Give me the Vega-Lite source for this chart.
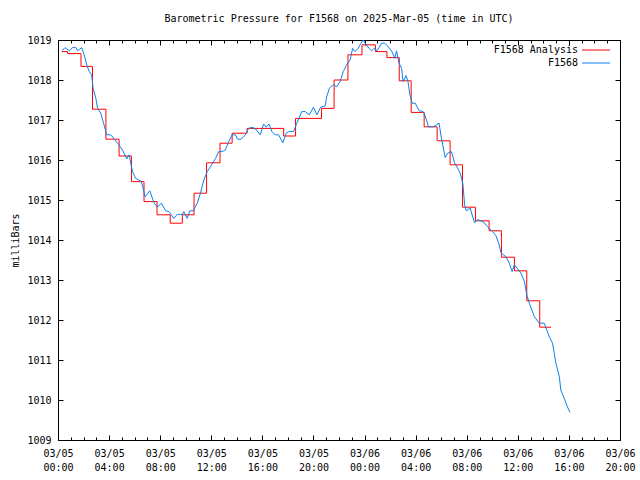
{
  "$schema": "https://vega.github.io/schema/vega-lite/v6.json",
  "width": 562,
  "height": 400,
  "autosize": {"type": "none"},
  "padding": {"left": 58, "top": 40, "right": 20, "bottom": 40},
  "background": "white",
  "title": {"text": "Barometric Pressure for F1568 on 2025-Mar-05 (time in UTC)", "font": "DejaVu Sans Mono", "fontSize": 10, "fontWeight": "normal", "color": "black", "offset": 11, "anchor": "middle"},
  "config": {
    "view": {"stroke": "black", "strokeWidth": 1},
    "axis": {"domain": false, "grid": false, "labelFont": "DejaVu Sans Mono", "labelFontSize": 10, "labelColor": "black", "tickColor": "black", "tickWidth": 1, "titleFont": "DejaVu Sans Mono", "titleFontSize": 10, "titleFontWeight": "normal", "titleColor": "black"}
  },
  "datasets": {
    "analysis": [
      {"t": "2025-03-05T00:19", "p": 1018.71},
      {"t": "2025-03-05T00:45", "p": 1018.66},
      {"t": "2025-03-05T01:48", "p": 1018.34},
      {"t": "2025-03-05T02:42", "p": 1017.27},
      {"t": "2025-03-05T03:45", "p": 1016.52},
      {"t": "2025-03-05T04:47", "p": 1016.10},
      {"t": "2025-03-05T05:45", "p": 1015.46},
      {"t": "2025-03-05T06:44", "p": 1014.96},
      {"t": "2025-03-05T07:45", "p": 1014.63},
      {"t": "2025-03-05T08:47", "p": 1014.42},
      {"t": "2025-03-05T09:44", "p": 1014.63},
      {"t": "2025-03-05T10:39", "p": 1015.17},
      {"t": "2025-03-05T11:38", "p": 1015.93},
      {"t": "2025-03-05T12:41", "p": 1016.42},
      {"t": "2025-03-05T13:38", "p": 1016.67},
      {"t": "2025-03-05T14:48", "p": 1016.79},
      {"t": "2025-03-05T17:40", "p": 1016.60},
      {"t": "2025-03-05T18:36", "p": 1017.04},
      {"t": "2025-03-05T20:38", "p": 1017.29},
      {"t": "2025-03-05T21:37", "p": 1018.00},
      {"t": "2025-03-05T22:42", "p": 1018.63},
      {"t": "2025-03-05T23:48", "p": 1018.88},
      {"t": "2025-03-06T00:51", "p": 1018.71},
      {"t": "2025-03-06T01:45", "p": 1018.56},
      {"t": "2025-03-06T02:43", "p": 1017.98},
      {"t": "2025-03-06T03:39", "p": 1017.19},
      {"t": "2025-03-06T04:40", "p": 1016.83},
      {"t": "2025-03-06T05:41", "p": 1016.48},
      {"t": "2025-03-06T06:42", "p": 1015.88},
      {"t": "2025-03-06T07:40", "p": 1014.82},
      {"t": "2025-03-06T08:41", "p": 1014.48},
      {"t": "2025-03-06T09:45", "p": 1014.23},
      {"t": "2025-03-06T10:43", "p": 1013.57},
      {"t": "2025-03-06T11:44", "p": 1013.23},
      {"t": "2025-03-06T12:42", "p": 1012.48},
      {"t": "2025-03-06T13:43", "p": 1011.82},
      {"t": "2025-03-06T14:36", "p": 1011.82}
    ],
    "obs": [
      {"t": "2025-03-05T00:19", "p": 1018.73},
      {"t": "2025-03-05T00:33", "p": 1018.81},
      {"t": "2025-03-05T00:53", "p": 1018.73},
      {"t": "2025-03-05T01:09", "p": 1018.81},
      {"t": "2025-03-05T01:24", "p": 1018.81},
      {"t": "2025-03-05T01:32", "p": 1018.73},
      {"t": "2025-03-05T01:51", "p": 1018.81},
      {"t": "2025-03-05T02:03", "p": 1018.63},
      {"t": "2025-03-05T02:16", "p": 1018.36},
      {"t": "2025-03-05T02:27", "p": 1018.21},
      {"t": "2025-03-05T02:38", "p": 1018.13},
      {"t": "2025-03-05T02:45", "p": 1017.79},
      {"t": "2025-03-05T02:58", "p": 1017.54},
      {"t": "2025-03-05T03:06", "p": 1017.29},
      {"t": "2025-03-05T03:21", "p": 1017.17},
      {"t": "2025-03-05T03:34", "p": 1016.92},
      {"t": "2025-03-05T03:49", "p": 1016.63},
      {"t": "2025-03-05T04:08", "p": 1016.63},
      {"t": "2025-03-05T04:40", "p": 1016.42},
      {"t": "2025-03-05T05:03", "p": 1016.25},
      {"t": "2025-03-05T05:23", "p": 1016.03},
      {"t": "2025-03-05T05:34", "p": 1016.13},
      {"t": "2025-03-05T05:50", "p": 1015.71},
      {"t": "2025-03-05T06:05", "p": 1015.54},
      {"t": "2025-03-05T06:32", "p": 1015.46},
      {"t": "2025-03-05T06:49", "p": 1015.08},
      {"t": "2025-03-05T07:11", "p": 1015.23},
      {"t": "2025-03-05T07:31", "p": 1014.93},
      {"t": "2025-03-05T07:47", "p": 1014.82},
      {"t": "2025-03-05T08:05", "p": 1014.92},
      {"t": "2025-03-05T08:26", "p": 1014.73},
      {"t": "2025-03-05T08:41", "p": 1014.71},
      {"t": "2025-03-05T09:04", "p": 1014.54},
      {"t": "2025-03-05T09:20", "p": 1014.64},
      {"t": "2025-03-05T09:44", "p": 1014.64},
      {"t": "2025-03-05T09:51", "p": 1014.71},
      {"t": "2025-03-05T10:07", "p": 1014.54},
      {"t": "2025-03-05T10:19", "p": 1014.73},
      {"t": "2025-03-05T10:35", "p": 1014.73},
      {"t": "2025-03-05T10:54", "p": 1014.92},
      {"t": "2025-03-05T11:09", "p": 1015.17},
      {"t": "2025-03-05T11:25", "p": 1015.50},
      {"t": "2025-03-05T11:41", "p": 1015.71},
      {"t": "2025-03-05T11:56", "p": 1015.83},
      {"t": "2025-03-05T12:20", "p": 1016.04},
      {"t": "2025-03-05T12:35", "p": 1016.21},
      {"t": "2025-03-05T12:51", "p": 1016.21},
      {"t": "2025-03-05T13:06", "p": 1016.25},
      {"t": "2025-03-05T13:22", "p": 1016.46},
      {"t": "2025-03-05T13:38", "p": 1016.63},
      {"t": "2025-03-05T13:53", "p": 1016.63},
      {"t": "2025-03-05T14:04", "p": 1016.52},
      {"t": "2025-03-05T14:20", "p": 1016.52},
      {"t": "2025-03-05T14:40", "p": 1016.63},
      {"t": "2025-03-05T14:55", "p": 1016.79},
      {"t": "2025-03-05T15:11", "p": 1016.82},
      {"t": "2025-03-05T15:27", "p": 1016.78},
      {"t": "2025-03-05T15:50", "p": 1016.63},
      {"t": "2025-03-05T16:06", "p": 1016.90},
      {"t": "2025-03-05T16:18", "p": 1016.82},
      {"t": "2025-03-05T16:31", "p": 1016.90},
      {"t": "2025-03-05T16:45", "p": 1016.71},
      {"t": "2025-03-05T17:00", "p": 1016.63},
      {"t": "2025-03-05T17:16", "p": 1016.63},
      {"t": "2025-03-05T17:36", "p": 1016.43},
      {"t": "2025-03-05T17:52", "p": 1016.67},
      {"t": "2025-03-05T18:03", "p": 1016.71},
      {"t": "2025-03-05T18:26", "p": 1016.71},
      {"t": "2025-03-05T18:42", "p": 1016.92},
      {"t": "2025-03-05T19:05", "p": 1017.21},
      {"t": "2025-03-05T19:21", "p": 1017.21},
      {"t": "2025-03-05T19:41", "p": 1017.13},
      {"t": "2025-03-05T20:00", "p": 1017.32},
      {"t": "2025-03-05T20:16", "p": 1017.13},
      {"t": "2025-03-05T20:34", "p": 1017.32},
      {"t": "2025-03-05T20:55", "p": 1017.35},
      {"t": "2025-03-05T21:02", "p": 1017.58},
      {"t": "2025-03-05T21:15", "p": 1017.79},
      {"t": "2025-03-05T21:33", "p": 1017.89},
      {"t": "2025-03-05T21:49", "p": 1017.83},
      {"t": "2025-03-05T22:05", "p": 1017.96},
      {"t": "2025-03-05T22:20", "p": 1018.21},
      {"t": "2025-03-05T22:36", "p": 1018.38},
      {"t": "2025-03-05T22:52", "p": 1018.50},
      {"t": "2025-03-05T23:04", "p": 1018.79},
      {"t": "2025-03-05T23:15", "p": 1018.71},
      {"t": "2025-03-05T23:30", "p": 1018.79},
      {"t": "2025-03-05T23:43", "p": 1018.92},
      {"t": "2025-03-05T23:54", "p": 1019.00},
      {"t": "2025-03-06T00:06", "p": 1018.89},
      {"t": "2025-03-06T00:22", "p": 1018.79},
      {"t": "2025-03-06T00:33", "p": 1018.73},
      {"t": "2025-03-06T00:45", "p": 1018.79},
      {"t": "2025-03-06T00:59", "p": 1018.73},
      {"t": "2025-03-06T01:20", "p": 1018.92},
      {"t": "2025-03-06T01:35", "p": 1018.92},
      {"t": "2025-03-06T01:51", "p": 1018.83},
      {"t": "2025-03-06T02:07", "p": 1018.73},
      {"t": "2025-03-06T02:22", "p": 1018.54},
      {"t": "2025-03-06T02:30", "p": 1018.73},
      {"t": "2025-03-06T02:42", "p": 1018.42},
      {"t": "2025-03-06T02:54", "p": 1018.29},
      {"t": "2025-03-06T03:01", "p": 1017.96},
      {"t": "2025-03-06T03:15", "p": 1018.11},
      {"t": "2025-03-06T03:24", "p": 1017.96},
      {"t": "2025-03-06T03:32", "p": 1017.67},
      {"t": "2025-03-06T03:43", "p": 1017.42},
      {"t": "2025-03-06T03:58", "p": 1017.42},
      {"t": "2025-03-06T04:15", "p": 1017.24},
      {"t": "2025-03-06T04:37", "p": 1017.20},
      {"t": "2025-03-06T04:51", "p": 1017.00},
      {"t": "2025-03-06T05:00", "p": 1016.83},
      {"t": "2025-03-06T05:25", "p": 1016.83},
      {"t": "2025-03-06T05:37", "p": 1016.88},
      {"t": "2025-03-06T05:50", "p": 1016.92},
      {"t": "2025-03-06T06:01", "p": 1016.55},
      {"t": "2025-03-06T06:19", "p": 1016.06},
      {"t": "2025-03-06T06:30", "p": 1016.17},
      {"t": "2025-03-06T06:48", "p": 1016.21},
      {"t": "2025-03-06T07:03", "p": 1015.93},
      {"t": "2025-03-06T07:26", "p": 1015.71},
      {"t": "2025-03-06T07:34", "p": 1015.58},
      {"t": "2025-03-06T07:42", "p": 1015.40},
      {"t": "2025-03-06T07:50", "p": 1014.88},
      {"t": "2025-03-06T07:58", "p": 1014.73},
      {"t": "2025-03-06T08:16", "p": 1014.80},
      {"t": "2025-03-06T08:27", "p": 1014.60},
      {"t": "2025-03-06T08:37", "p": 1014.43},
      {"t": "2025-03-06T08:51", "p": 1014.51},
      {"t": "2025-03-06T09:19", "p": 1014.45},
      {"t": "2025-03-06T09:38", "p": 1014.33},
      {"t": "2025-03-06T10:02", "p": 1014.21},
      {"t": "2025-03-06T10:18", "p": 1014.10},
      {"t": "2025-03-06T10:30", "p": 1013.92},
      {"t": "2025-03-06T10:42", "p": 1013.67},
      {"t": "2025-03-06T11:05", "p": 1013.58},
      {"t": "2025-03-06T11:20", "p": 1013.42},
      {"t": "2025-03-06T11:33", "p": 1013.21},
      {"t": "2025-03-06T11:44", "p": 1013.38},
      {"t": "2025-03-06T12:15", "p": 1013.17},
      {"t": "2025-03-06T12:31", "p": 1012.96},
      {"t": "2025-03-06T12:42", "p": 1012.63},
      {"t": "2025-03-06T12:54", "p": 1012.42},
      {"t": "2025-03-06T13:18", "p": 1012.08},
      {"t": "2025-03-06T13:41", "p": 1011.92},
      {"t": "2025-03-06T14:04", "p": 1011.92},
      {"t": "2025-03-06T14:28", "p": 1011.58},
      {"t": "2025-03-06T14:43", "p": 1011.42},
      {"t": "2025-03-06T14:51", "p": 1011.17},
      {"t": "2025-03-06T14:59", "p": 1010.92},
      {"t": "2025-03-06T15:15", "p": 1010.58},
      {"t": "2025-03-06T15:22", "p": 1010.25},
      {"t": "2025-03-06T15:38", "p": 1010.04},
      {"t": "2025-03-06T15:53", "p": 1009.83},
      {"t": "2025-03-06T16:05", "p": 1009.69}
    ]
  },
  "layer": [
    {
      "data": {"name": "obs"},
      "mark": {"type": "line", "strokeOpacity": 0},
      "encoding": {
        "x": {"field": "t", "type": "temporal",
          "scale": {"domain": [{"year": 2025, "month": 3, "date": 5, "hours": 0}, {"year": 2025, "month": 3, "date": 6, "hours": 20}]},
          "axis": {"orient": "bottom", "title": null, "labels": false, "tickSize": 3, "offset": -3,
            "values": [{"year": 2025, "month": 3, "date": 5, "hours": 0}, {"year": 2025, "month": 3, "date": 5, "hours": 1}, {"year": 2025, "month": 3, "date": 5, "hours": 2}, {"year": 2025, "month": 3, "date": 5, "hours": 3}, {"year": 2025, "month": 3, "date": 5, "hours": 4}, {"year": 2025, "month": 3, "date": 5, "hours": 5}, {"year": 2025, "month": 3, "date": 5, "hours": 6}, {"year": 2025, "month": 3, "date": 5, "hours": 7}, {"year": 2025, "month": 3, "date": 5, "hours": 8}, {"year": 2025, "month": 3, "date": 5, "hours": 9}, {"year": 2025, "month": 3, "date": 5, "hours": 10}, {"year": 2025, "month": 3, "date": 5, "hours": 11}, {"year": 2025, "month": 3, "date": 5, "hours": 12}, {"year": 2025, "month": 3, "date": 5, "hours": 13}, {"year": 2025, "month": 3, "date": 5, "hours": 14}, {"year": 2025, "month": 3, "date": 5, "hours": 15}, {"year": 2025, "month": 3, "date": 5, "hours": 16}, {"year": 2025, "month": 3, "date": 5, "hours": 17}, {"year": 2025, "month": 3, "date": 5, "hours": 18}, {"year": 2025, "month": 3, "date": 5, "hours": 19}, {"year": 2025, "month": 3, "date": 5, "hours": 20}, {"year": 2025, "month": 3, "date": 5, "hours": 21}, {"year": 2025, "month": 3, "date": 5, "hours": 22}, {"year": 2025, "month": 3, "date": 5, "hours": 23}, {"year": 2025, "month": 3, "date": 6, "hours": 0}, {"year": 2025, "month": 3, "date": 6, "hours": 1}, {"year": 2025, "month": 3, "date": 6, "hours": 2}, {"year": 2025, "month": 3, "date": 6, "hours": 3}, {"year": 2025, "month": 3, "date": 6, "hours": 4}, {"year": 2025, "month": 3, "date": 6, "hours": 5}, {"year": 2025, "month": 3, "date": 6, "hours": 6}, {"year": 2025, "month": 3, "date": 6, "hours": 7}, {"year": 2025, "month": 3, "date": 6, "hours": 8}, {"year": 2025, "month": 3, "date": 6, "hours": 9}, {"year": 2025, "month": 3, "date": 6, "hours": 10}, {"year": 2025, "month": 3, "date": 6, "hours": 11}, {"year": 2025, "month": 3, "date": 6, "hours": 12}, {"year": 2025, "month": 3, "date": 6, "hours": 13}, {"year": 2025, "month": 3, "date": 6, "hours": 14}, {"year": 2025, "month": 3, "date": 6, "hours": 15}, {"year": 2025, "month": 3, "date": 6, "hours": 16}, {"year": 2025, "month": 3, "date": 6, "hours": 17}, {"year": 2025, "month": 3, "date": 6, "hours": 18}, {"year": 2025, "month": 3, "date": 6, "hours": 19}, {"year": 2025, "month": 3, "date": 6, "hours": 20}]}},
        "y": {"field": "p", "type": "quantitative", "scale": {"domain": [1009, 1019], "nice": false, "zero": false}, "axis": null}
      }
    },
    {
      "data": {"name": "obs"},
      "mark": {"type": "line", "strokeOpacity": 0},
      "encoding": {
        "x": {"field": "t", "type": "temporal",
          "axis": {"orient": "top", "title": null, "labels": false, "tickSize": 3, "offset": -3,
            "values": [{"year": 2025, "month": 3, "date": 5, "hours": 0}, {"year": 2025, "month": 3, "date": 5, "hours": 1}, {"year": 2025, "month": 3, "date": 5, "hours": 2}, {"year": 2025, "month": 3, "date": 5, "hours": 3}, {"year": 2025, "month": 3, "date": 5, "hours": 4}, {"year": 2025, "month": 3, "date": 5, "hours": 5}, {"year": 2025, "month": 3, "date": 5, "hours": 6}, {"year": 2025, "month": 3, "date": 5, "hours": 7}, {"year": 2025, "month": 3, "date": 5, "hours": 8}, {"year": 2025, "month": 3, "date": 5, "hours": 9}, {"year": 2025, "month": 3, "date": 5, "hours": 10}, {"year": 2025, "month": 3, "date": 5, "hours": 11}, {"year": 2025, "month": 3, "date": 5, "hours": 12}, {"year": 2025, "month": 3, "date": 5, "hours": 13}, {"year": 2025, "month": 3, "date": 5, "hours": 14}, {"year": 2025, "month": 3, "date": 5, "hours": 15}, {"year": 2025, "month": 3, "date": 5, "hours": 16}, {"year": 2025, "month": 3, "date": 5, "hours": 17}, {"year": 2025, "month": 3, "date": 5, "hours": 18}, {"year": 2025, "month": 3, "date": 5, "hours": 19}, {"year": 2025, "month": 3, "date": 5, "hours": 20}, {"year": 2025, "month": 3, "date": 5, "hours": 21}, {"year": 2025, "month": 3, "date": 5, "hours": 22}, {"year": 2025, "month": 3, "date": 5, "hours": 23}, {"year": 2025, "month": 3, "date": 6, "hours": 0}, {"year": 2025, "month": 3, "date": 6, "hours": 1}, {"year": 2025, "month": 3, "date": 6, "hours": 2}, {"year": 2025, "month": 3, "date": 6, "hours": 3}, {"year": 2025, "month": 3, "date": 6, "hours": 4}, {"year": 2025, "month": 3, "date": 6, "hours": 5}, {"year": 2025, "month": 3, "date": 6, "hours": 6}, {"year": 2025, "month": 3, "date": 6, "hours": 7}, {"year": 2025, "month": 3, "date": 6, "hours": 8}, {"year": 2025, "month": 3, "date": 6, "hours": 9}, {"year": 2025, "month": 3, "date": 6, "hours": 10}, {"year": 2025, "month": 3, "date": 6, "hours": 11}, {"year": 2025, "month": 3, "date": 6, "hours": 12}, {"year": 2025, "month": 3, "date": 6, "hours": 13}, {"year": 2025, "month": 3, "date": 6, "hours": 14}, {"year": 2025, "month": 3, "date": 6, "hours": 15}, {"year": 2025, "month": 3, "date": 6, "hours": 16}, {"year": 2025, "month": 3, "date": 6, "hours": 17}, {"year": 2025, "month": 3, "date": 6, "hours": 18}, {"year": 2025, "month": 3, "date": 6, "hours": 19}, {"year": 2025, "month": 3, "date": 6, "hours": 20}]}},
        "y": {"field": "p", "type": "quantitative", "axis": null}
      }
    },
    {
      "data": {"name": "analysis"},
      "mark": {"type": "line", "interpolate": "step-after", "strokeWidth": 1},
      "encoding": {
        "x": {"field": "t", "type": "temporal",
          "axis": {"orient": "bottom", "title": null, "offset": -5,
            "values": [{"year": 2025, "month": 3, "date": 5, "hours": 0}, {"year": 2025, "month": 3, "date": 5, "hours": 4}, {"year": 2025, "month": 3, "date": 5, "hours": 8}, {"year": 2025, "month": 3, "date": 5, "hours": 12}, {"year": 2025, "month": 3, "date": 5, "hours": 16}, {"year": 2025, "month": 3, "date": 5, "hours": 20}, {"year": 2025, "month": 3, "date": 6, "hours": 0}, {"year": 2025, "month": 3, "date": 6, "hours": 4}, {"year": 2025, "month": 3, "date": 6, "hours": 8}, {"year": 2025, "month": 3, "date": 6, "hours": 12}, {"year": 2025, "month": 3, "date": 6, "hours": 16}, {"year": 2025, "month": 3, "date": 6, "hours": 20}],
            "tickSize": 5, "labelExpr": "[timeFormat(datum.value, '%m/%d'), timeFormat(datum.value, '%H:%M')]",
            "labelPadding": 8, "labelLineHeight": 14, "labelFlush": false, "labelOverlap": false, "labelBound": false}},
        "y": {"field": "p", "type": "quantitative",
          "axis": {"orient": "left", "title": "milliBars", "values": [1009, 1010, 1011, 1012, 1013, 1014, 1015, 1016, 1017, 1018, 1019], "format": "d", "offset": -5,
            "tickSize": 5, "labelPadding": 7, "titleX": -43, "titleY": 200, "titleAngle": 270, "titleAlign": "center", "titleBaseline": "bottom"}},
        "color": {"datum": "F1568 Analysis", "type": "nominal",
          "scale": {"domain": ["F1568 Analysis", "F1568"], "range": ["#ff0000", "#0a80f0"]},
          "legend": {"title": null, "orient": "none", "legendX": 533, "legendY": 5, "padding": 0,
            "labelFont": "DejaVu Sans Mono", "labelFontSize": 10, "labelColor": "black", "labelAlign": "right", "labelOffset": -23, "labelLimit": 300,
            "symbolType": "M-4,0H4", "symbolSize": 49, "symbolStrokeWidth": 1, "rowPadding": 3}}
      }
    },
    {
      "data": {"name": "obs"},
      "mark": {"type": "line", "strokeWidth": 1},
      "encoding": {
        "x": {"field": "t", "type": "temporal",
          "axis": {"orient": "top", "title": null, "labels": false, "tickSize": 5, "offset": -5,
            "values": [{"year": 2025, "month": 3, "date": 5, "hours": 0}, {"year": 2025, "month": 3, "date": 5, "hours": 4}, {"year": 2025, "month": 3, "date": 5, "hours": 8}, {"year": 2025, "month": 3, "date": 5, "hours": 12}, {"year": 2025, "month": 3, "date": 5, "hours": 16}, {"year": 2025, "month": 3, "date": 5, "hours": 20}, {"year": 2025, "month": 3, "date": 6, "hours": 0}, {"year": 2025, "month": 3, "date": 6, "hours": 4}, {"year": 2025, "month": 3, "date": 6, "hours": 8}, {"year": 2025, "month": 3, "date": 6, "hours": 12}, {"year": 2025, "month": 3, "date": 6, "hours": 16}, {"year": 2025, "month": 3, "date": 6, "hours": 20}]}},
        "y": {"field": "p", "type": "quantitative",
          "axis": {"orient": "right", "title": null, "labels": false, "values": [1009, 1010, 1011, 1012, 1013, 1014, 1015, 1016, 1017, 1018, 1019], "tickSize": 5, "offset": -5}},
        "color": {"datum": "F1568", "type": "nominal"}
      }
    }
  ],
  "resolve": {"axis": {"x": "independent", "y": "independent"}}
}
